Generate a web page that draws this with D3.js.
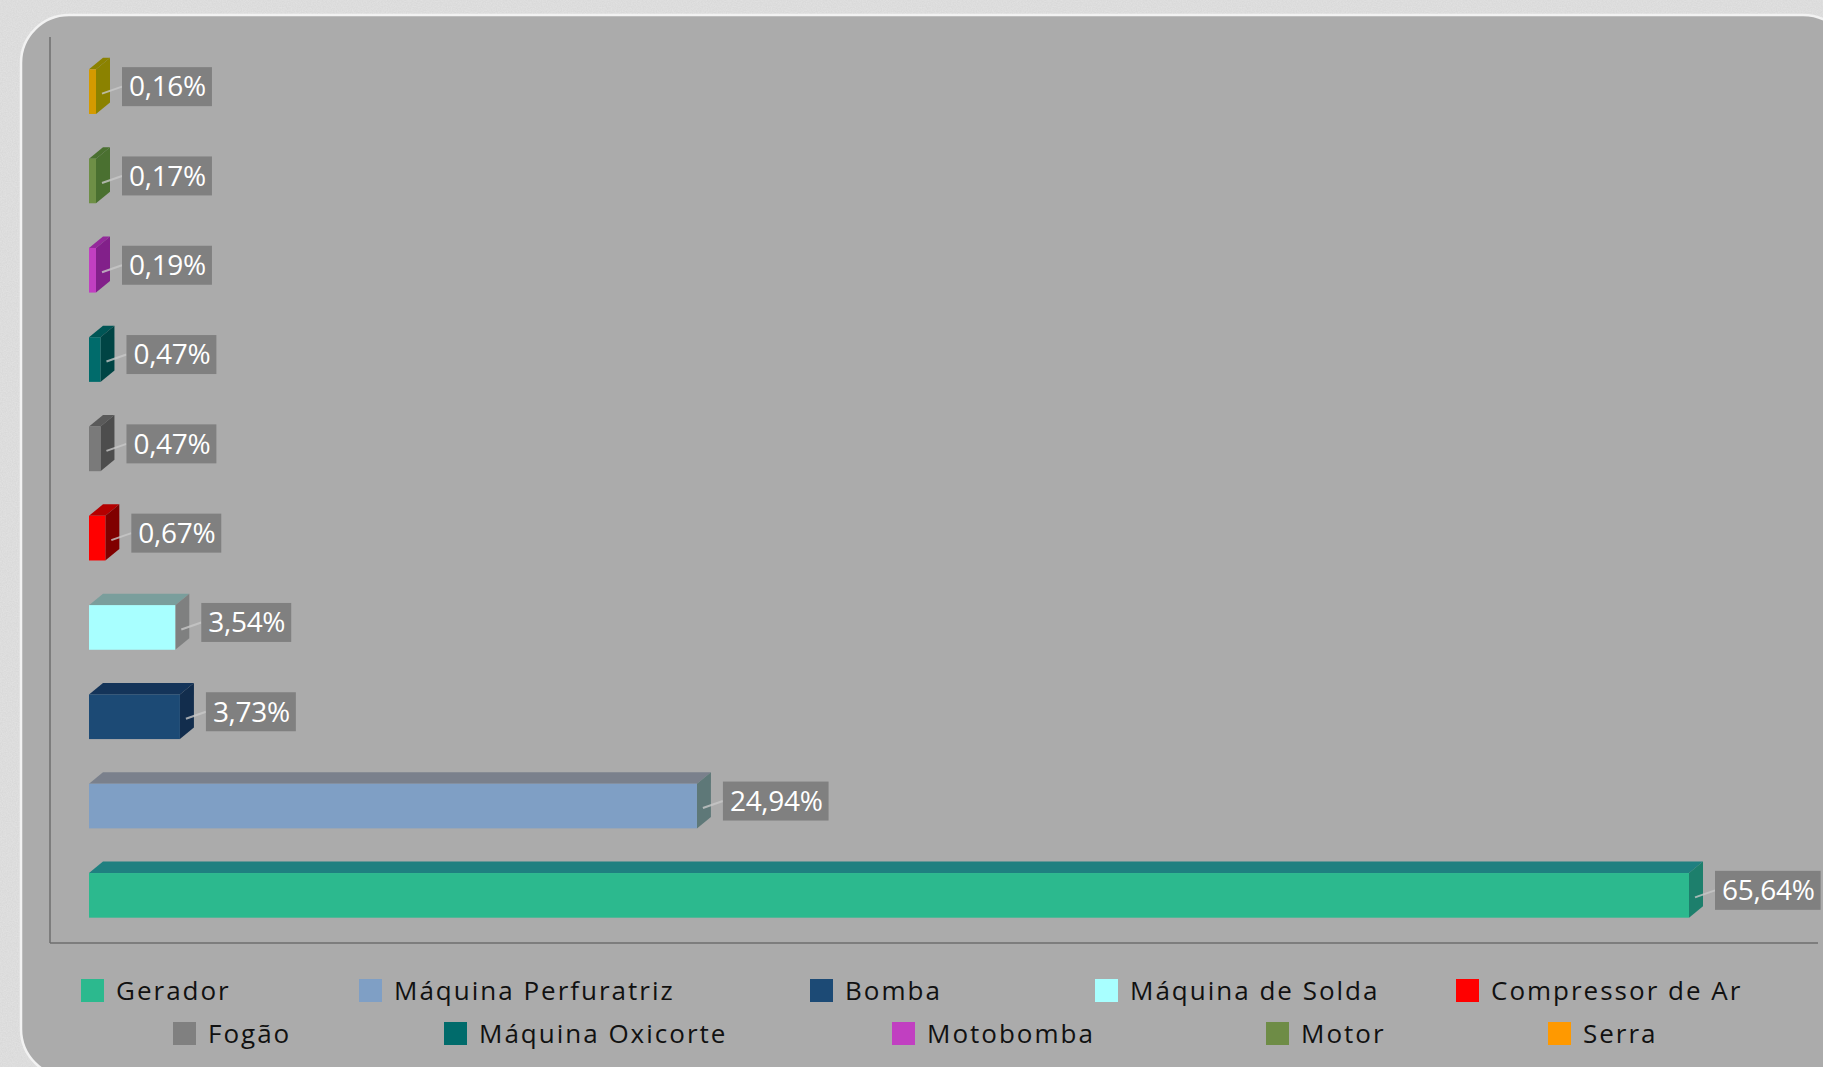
<!DOCTYPE html>
<head>
<meta charset="utf-8">
<style type="text/css">
    body {
      margin: 0;
      background: #dcdcdc;
      overflow: hidden;
    }
    svg { display: block; }
</style>
</head>
<script src="https://d3js.org/d3.v7.min.js"></script>
<body>
    <svg width="1823" height="1067"></svg>
    <script>
        // data, top bar first
        var categories = ["Serra", "Motor", "Motobomba", "Máquina Oxicorte", "Fogão",
                          "Compressor de Ar", "Máquina de Solda", "Bomba", "Máquina Perfuratriz", "Gerador"];
        var values = [0.16, 0.17, 0.19, 0.47, 0.47, 0.67, 3.54, 3.73, 24.94, 65.64];
        var valueLabels = ["0,16%", "0,17%", "0,19%", "0,47%", "0,47%", "0,67%", "3,54%", "3,73%", "24,94%", "65,64%"];

        // legend order (as in the chart)
        var legendRow1 = ["Gerador", "Máquina Perfuratriz", "Bomba", "Máquina de Solda", "Compressor de Ar"];
        var legendRow2 = ["Fogão", "Máquina Oxicorte", "Motobomba", "Motor", "Serra"];

        // colours per category: front / top / side / legend
        var colors = {
            "Gerador":             ["#2cb98e", "#1f8080", "#1d7f6c", "#2cb98e"],
            "Máquina Perfuratriz": ["#7f9fc5", "#7a808c", "#5e7878", "#7f9fc5"],
            "Bomba":               ["#1c4a75", "#143459", "#122d4d", "#1c4a75"],
            "Máquina de Solda":    ["#a8ffff", "#7a9e9c", "#7f8080", "#a8ffff"],
            "Compressor de Ar":    ["#ff0000", "#b30000", "#800000", "#ff0000"],
            "Fogão":               ["#7a7a7a", "#5a5a5a", "#4d4d4d", "#808080"],
            "Máquina Oxicorte":    ["#006b6b", "#005555", "#004444", "#006b6b"],
            "Motobomba":           ["#c13fc1", "#93299a", "#82208a", "#c13fc1"],
            "Motor":               ["#6e8f46", "#4a7030", "#4a7030", "#6e8c46"],
            "Serra":               ["#d49a00", "#8b8200", "#8b8200", "#ff9900"]
        };

        var width = 1823,
            height = 1067,
            depthX = 14,
            depthY = -11.5;

        var svg = d3.select("svg");

        var defs = svg.append("defs");
        var noise = defs.append("filter").attr("id", "noise")
            .attr("x", 0).attr("y", 0).attr("width", "100%").attr("height", "100%");
        noise.append("feTurbulence").attr("type", "fractalNoise")
            .attr("baseFrequency", 0.8).attr("numOctaves", 2).attr("seed", 3);
        noise.append("feColorMatrix").attr("type", "matrix")
            .attr("values", "0 0 0 0 1  0 0 0 0 1  0 0 0 0 1  0 0 0 0.35 -0.08");

        // page + panel
        svg.append("rect").attr("width", width).attr("height", height).attr("fill", "#d9d9d9");
        svg.append("rect").attr("width", width).attr("height", height).attr("filter", "url(#noise)");

        svg.append("rect")
            .attr("x", 21).attr("y", 15)
            .attr("width", 1830).attr("height", 1062)
            .attr("rx", 48).attr("ry", 48)
            .attr("fill", "#ababab")
            .attr("stroke", "#f2f2f2")
            .attr("stroke-width", 2.5);

        var x = d3.scaleLinear()
            .domain([0, d3.max(values)])
            .range([89, 1689]);

        var y = d3.scaleBand()
            .domain(categories)
            .range([47, 940])
            .paddingInner(0.5)
            .paddingOuter(0.25);

        // axes lines
        svg.append("line")
            .attr("x1", 50).attr("x2", 50).attr("y1", 37).attr("y2", 943)
            .attr("stroke", "#6e6e6e").attr("stroke-width", 1.5);
        svg.append("line")
            .attr("x1", 50).attr("x2", 1818).attr("y1", 943).attr("y2", 943)
            .attr("stroke", "#6e6e6e").attr("stroke-width", 1.5);

        var bars = svg.append("g").selectAll(".bar")
            .data(categories.map(function(c, i) { return {name: c, value: values[i], label: valueLabels[i]}; }))
            .enter().append("g")
            .attr("class", "bar");

        function right(d) {
            return Math.max(x(d.value), x(0) + 7);
        }

        // top face
        bars.append("path")
            .attr("d", function(d) {
                var x0 = x(0), x1 = right(d), y0 = y(d.name);
                return "M" + x0 + "," + y0 + "L" + (x0 + depthX) + "," + (y0 + depthY) +
                       "L" + (x1 + depthX) + "," + (y0 + depthY) + "L" + x1 + "," + y0 + "Z";
            })
            .attr("fill", function(d) { return colors[d.name][1]; });

        // side face
        bars.append("path")
            .attr("d", function(d) {
                var x1 = right(d), y0 = y(d.name), y1 = y0 + y.bandwidth();
                return "M" + x1 + "," + y0 + "L" + (x1 + depthX) + "," + (y0 + depthY) +
                       "L" + (x1 + depthX) + "," + (y1 + depthY) + "L" + x1 + "," + y1 + "Z";
            })
            .attr("fill", function(d) { return colors[d.name][2]; });

        // front face
        bars.append("rect")
            .attr("x", x(0))
            .attr("y", function(d) { return y(d.name); })
            .attr("width", function(d) { return right(d) - x(0); })
            .attr("height", y.bandwidth())
            .attr("fill", function(d) { return colors[d.name][0]; });

        // value labels
        bars.each(function(d) {
            var g = d3.select(this),
                cy = y(d.name) + y.bandwidth() / 2,
                bx = right(d) + depthX + 12,
                by = cy - 5;

            g.append("line")
                .attr("x1", right(d) + 6).attr("y1", cy + 2)
                .attr("x2", bx).attr("y2", by)
                .attr("stroke", "#c8c8c8").attr("stroke-width", 2).attr("opacity", 0.8);

            var box = g.append("rect").attr("fill", "#808080");
            var t = g.append("text")
                .attr("x", bx + 7)
                .attr("y", by)
                .attr("dy", "0.35em")
                .style("font-family", "'Open Sans', sans-serif")
                .style("font-size", "28px")
                .style("letter-spacing", "-0.3px")
                .attr("fill", "#fff")
                .text(d.label);
            var w = t.node().getComputedTextLength();
            box.attr("x", bx).attr("y", by - 19.5)
                .attr("width", w + 13).attr("height", 39);
        });

        // legend
        var legendX1 = [81, 359, 810, 1095, 1456],
            legendX2 = [173, 444, 892, 1266, 1548];

        function drawLegend(names, xs, cy) {
            var items = svg.append("g").selectAll(".leg")
                .data(names)
                .enter().append("g")
                .attr("transform", function(d, i) { return "translate(" + xs[i] + "," + cy + ")"; });
            items.append("rect")
                .attr("x", 0).attr("y", -11.5)
                .attr("width", 23).attr("height", 23)
                .attr("fill", function(d) { return colors[d][3]; });
            items.append("text")
                .attr("x", 35).attr("y", 0).attr("dy", "0.35em")
                .style("font-family", "'Open Sans', sans-serif")
                .style("font-size", "26px")
                .style("letter-spacing", "2px")
                .attr("fill", "#111")
                .text(function(d) { return d; });
        }
        drawLegend(legendRow1, legendX1, 990.5);
        drawLegend(legendRow2, legendX2, 1033.5);
    </script>
</body>
